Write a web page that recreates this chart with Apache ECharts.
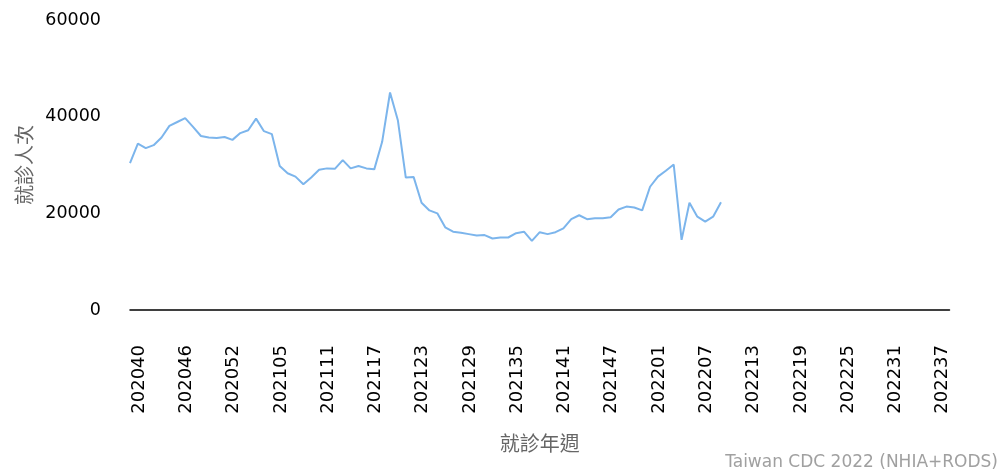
<!DOCTYPE html>
<html>
<head>
<meta charset="utf-8">
<script src="https://cdn.jsdelivr.net/npm/echarts@6/dist/echarts.min.js"></script>
<style>
  html, body { margin: 0; padding: 0; background: #fff; }
  #chart { width: 1003px; height: 475px; }
</style>
</head>
<body>
<div id="chart"></div>
<script>
// year / first week / last week shown on the x axis
const weekRanges = [
  [2020, 40, 53],
  [2021, 1, 52],
  [2022, 1, 39]
];

const weeks = [];
weekRanges.forEach(([year, from, to]) => {
  for (let w = from; w <= to; w++) {
    weeks.push(String(year) + String(w).padStart(2, '0'));
  }
});

// weekly visits, 202040 .. 202210
const visits = [
  30400, 34400, 33500, 34100, 35700, 38100, 38900, 39700, 37900, 36000,
  35700, 35600, 35800, 35200, 36600, 37200, 39600, 37000, 36400, 29800,
  28300, 27600, 26000, 27400, 29000, 29300, 29200, 31000, 29300, 29800,
  29300, 29100, 34800, 45000, 39200, 27400, 27500, 22200, 20600, 20000,
  17100, 16200, 16000, 15700, 15400, 15500, 14800, 15000, 15000, 15900,
  16200, 14300, 16100, 15700, 16100, 16900, 18800, 19600, 18800, 19000,
  19000, 19200, 20800, 21400, 21200, 20600, 25500, 27600, 28800, 30100,
  14500, 22200, 19300, 18300, 19300, 22300
];

const chart = echarts.init(document.getElementById('chart'));

const option = {
  animation: false,
  grid: { left: 130, right: 53.5, top: 20, bottom: 165 },
  xAxis: {
    type: 'category',
    data: weeks,
    boundaryGap: false,
    name: '就診年週',
    nameLocation: 'middle',
    nameGap: 123,
    nameTextStyle: { fontFamily: 'Noto Sans CJK TC', fontSize: 20, color: '#666' },
    axisLine: { lineStyle: { color: '#000', width: 1.5 } },
    axisTick: { show: false },
    axisLabel: {
      interval: 5,
      rotate: 90,
      margin: 35,
      verticalAlign: 'top',
      fontFamily: 'DejaVu Sans',
      fontSize: 18,
      color: '#000'
    },
    splitLine: { show: false }
  },
  yAxis: {
    type: 'value',
    min: 0,
    max: 60000,
    interval: 20000,
    name: '就診人次',
    nameLocation: 'middle',
    nameRotate: 90,
    nameGap: 94,
    nameTextStyle: { fontFamily: 'Noto Sans CJK TC', fontSize: 20, color: '#666' },
    axisLine: { show: false },
    axisTick: { show: false },
    axisLabel: {
      margin: 29,
      fontFamily: 'DejaVu Sans',
      fontSize: 17.5,
      color: '#000',
      formatter: (v) => String(v)
    },
    splitLine: { show: false }
  },
  graphic: [{
    type: 'text',
    right: 5,
    top: 454,
    style: {
      text: 'Taiwan CDC 2022 (NHIA+RODS)',
      font: '17px "DejaVu Sans"',
      fill: '#a0a0a0'
    }
  }],
  series: [{
    type: 'line',
    data: visits,
    symbol: 'none',
    lineStyle: { color: '#7cb5ec', width: 2 }
  }]
};

chart.setOption(option);
</script>
</body>
</html>
